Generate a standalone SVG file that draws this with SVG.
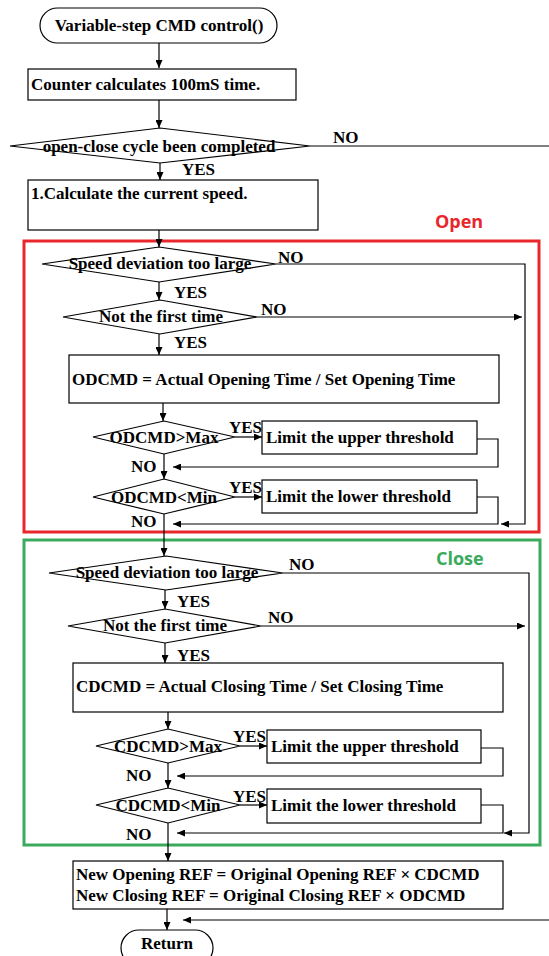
<svg xmlns="http://www.w3.org/2000/svg" width="549" height="956" viewBox="0 0 549 956">
  <defs>
    <marker id="arrow" markerWidth="9" markerHeight="7" refX="8" refY="3.5" orient="auto" markerUnits="userSpaceOnUse">
      <path d="M0,0 L8,3.5 L0,7 z" fill="#000"/>
    </marker>
    <style>
      .shape { fill: #fff; stroke: #000; stroke-width: 1.2; }
      .t { font-family: "Liberation Serif", "Times New Roman", serif; font-weight: bold; font-size: 17px; fill: #000; }
      .c { text-anchor: middle; }
      .edge { fill: none; stroke: #000; stroke-width: 1.2; }
      .arr { marker-end: url(#arrow); }
      .zone-label { font-family: "Open Sans", "Liberation Sans", sans-serif; font-weight: bold; font-size: 18px; }
    </style>
  </defs>
  <rect width="549" height="956" fill="#fff"/>

  <!-- section frames -->
  <g id="open-section">
    <rect x="24" y="241" width="515" height="291" fill="none" stroke="#e8262b" stroke-width="3"/>
    <text class="zone-label" x="435" y="228" fill="#e8262b">Open</text>
  </g>
  <g id="close-section">
    <rect x="24" y="540" width="516" height="305" fill="none" stroke="#3aaa5c" stroke-width="3"/>
    <text class="zone-label" x="436" y="565" fill="#3aaa5c">Close</text>
  </g>

  <!-- connectors -->
  <g id="connectors">
    <path class="edge arr" d="M159,43 V68"/>
    <path class="edge arr" d="M159,100 V128"/>
    <path class="edge" d="M310,146 H549"/>
    <path class="edge arr" d="M160,163 V180"/>
    <path class="edge arr" d="M159,230 V247"/>
    <path class="edge arr" d="M276,264 H525 V524 H501"/>
    <path class="edge arr" d="M159,282 V300"/>
    <path class="edge arr" d="M257,317 H522"/>
    <path class="edge arr" d="M159,334 V355"/>
    <path class="edge arr" d="M163,403 V421"/>
    <path class="edge arr" d="M235,437 H262"/>
    <path class="edge arr" d="M477,439 H498 V467 H173"/>
    <path class="edge arr" d="M164,454 V479"/>
    <path class="edge arr" d="M235,497 H262"/>
    <path class="edge arr" d="M477,497 H498 V524 H173"/>
    <path class="edge arr" d="M164,514 V556"/>
    <path class="edge arr" d="M283,573 H529 V833 H504"/>
    <path class="edge arr" d="M165,590 V609"/>
    <path class="edge arr" d="M261,626 H525"/>
    <path class="edge arr" d="M165,643 V663"/>
    <path class="edge arr" d="M168,712 V729"/>
    <path class="edge arr" d="M240,746 H267"/>
    <path class="edge arr" d="M481,748 H503 V776 H177"/>
    <path class="edge arr" d="M168,763 V788"/>
    <path class="edge arr" d="M240,805 H267"/>
    <path class="edge arr" d="M481,805 H503 V833 H177"/>
    <path class="edge arr" d="M168,823 V861"/>
    <path class="edge arr" d="M167,909 V930"/>
    <path class="edge arr" d="M549,920 H183"/>
  </g>

  <!-- branch labels -->
  <g id="branch-labels" class="t">
    <text x="333" y="143">NO</text>
    <text x="182" y="175">YES</text>
    <text x="278" y="263">NO</text>
    <text x="174" y="298">YES</text>
    <text x="261" y="315">NO</text>
    <text x="174" y="348">YES</text>
    <text x="229" y="433">YES</text>
    <text x="131" y="472">NO</text>
    <text x="229" y="493">YES</text>
    <text x="131" y="527">NO</text>
    <text x="289" y="570">NO</text>
    <text x="177" y="607">YES</text>
    <text x="268" y="623">NO</text>
    <text x="177" y="661">YES</text>
    <text x="233" y="742">YES</text>
    <text x="126" y="781">NO</text>
    <text x="233" y="802">YES</text>
    <text x="126" y="840">NO</text>
  </g>

  <!-- nodes -->
  <g id="start">
    <rect class="shape" x="40" y="8" width="237" height="35" rx="17.5"/>
    <text class="t c" x="159" y="31">Variable-step CMD control()</text>
  </g>
  <g id="count-time">
    <rect class="shape" x="28" y="69" width="268" height="31"/>
    <text class="t" x="31" y="90">Counter calculates 100mS time.</text>
  </g>
  <g id="cycle-done">
    <polygon class="shape" points="10,146 160,128 310,146 160,163"/>
    <text class="t c" x="159" y="152">open-close cycle been completed</text>
  </g>
  <g id="calc-speed">
    <rect class="shape" x="28" y="180" width="290" height="50"/>
    <text class="t" x="31" y="199">1.Calculate the current speed.</text>
  </g>

  <g id="open-deviation">
    <polygon class="shape" points="42,264 159,247 276,264 159,282"/>
    <text class="t c" x="160" y="269">Speed deviation too large</text>
  </g>
  <g id="open-not-first">
    <polygon class="shape" points="63,317 160,300 257,317 160,334"/>
    <text class="t c" x="161" y="322">Not the first time</text>
  </g>
  <g id="odcmd-calc">
    <rect class="shape" x="69" y="355" width="430" height="48"/>
    <text class="t" x="72" y="385">ODCMD = Actual Opening Time / Set Opening Time</text>
  </g>
  <g id="odcmd-max">
    <polygon class="shape" points="93,437 164,421 235,437 164,454"/>
    <text class="t c" x="164" y="443">ODCMD&gt;Max</text>
  </g>
  <g id="open-upper-limit">
    <rect class="shape" x="262" y="421" width="215" height="33"/>
    <text class="t" x="266" y="443">Limit the upper threshold</text>
  </g>
  <g id="odcmd-min">
    <polygon class="shape" points="93,497 164,479 235,497 164,514"/>
    <text class="t c" x="164" y="503">ODCMD&lt;Min</text>
  </g>
  <g id="open-lower-limit">
    <rect class="shape" x="262" y="480" width="215" height="33"/>
    <text class="t" x="266" y="502">Limit the lower threshold</text>
  </g>

  <g id="close-deviation">
    <polygon class="shape" points="49,573 166,556 283,573 166,590"/>
    <text class="t c" x="167" y="578">Speed deviation too large</text>
  </g>
  <g id="close-not-first">
    <polygon class="shape" points="68,626 165,609 261,626 165,643"/>
    <text class="t c" x="165" y="631">Not the first time</text>
  </g>
  <g id="cdcmd-calc">
    <rect class="shape" x="73" y="663" width="430" height="49"/>
    <text class="t" x="76" y="692">CDCMD = Actual Closing Time / Set Closing Time</text>
  </g>
  <g id="cdcmd-max">
    <polygon class="shape" points="96,746 168,729 240,746 168,763"/>
    <text class="t c" x="168" y="752">CDCMD&gt;Max</text>
  </g>
  <g id="close-upper-limit">
    <rect class="shape" x="267" y="730" width="214" height="33"/>
    <text class="t" x="271" y="752">Limit the upper threshold</text>
  </g>
  <g id="cdcmd-min">
    <polygon class="shape" points="96,805 168,788 240,805 168,823"/>
    <text class="t c" x="168" y="811">CDCMD&lt;Min</text>
  </g>
  <g id="close-lower-limit">
    <rect class="shape" x="267" y="789" width="214" height="34"/>
    <text class="t" x="271" y="811">Limit the lower threshold</text>
  </g>

  <g id="new-ref">
    <rect class="shape" x="73" y="861" width="430" height="48"/>
    <text class="t" x="76" y="880">New Opening REF = Original Opening REF × CDCMD</text>
    <text class="t" x="76" y="901">New Closing REF = Original Closing REF × ODCMD</text>
  </g>
  <g id="return">
    <rect class="shape" x="121" y="930" width="92" height="36" rx="18"/>
    <text class="t c" x="167" y="949">Return</text>
  </g>
</svg>
